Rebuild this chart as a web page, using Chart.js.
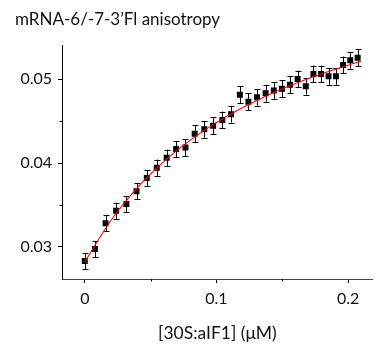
<!DOCTYPE html>
<html><head><meta charset="utf-8">
<script src="https://cdn.jsdelivr.net/npm/chart.js@4.4.1/dist/chart.umd.min.js"></script>
<style>html,body{margin:0;padding:0;background:#fff}#wrap{width:377px;height:347px}</style>
</head><body><div id="wrap"><canvas id="c" width="377" height="347"></canvas></div>
<script>
const concentration = [0, 0.0077, 0.0158, 0.0238, 0.0316, 0.0393, 0.0471, 0.0547, 0.0622, 0.0694,
  0.0765, 0.0835, 0.0908, 0.0975, 0.1045, 0.1111, 0.1178, 0.1243, 0.1308, 0.1374,
  0.1436, 0.1498, 0.1559, 0.1617, 0.1679, 0.1737, 0.1795, 0.1852, 0.1908, 0.1962,
  0.2017, 0.2073];
const anisotropy = [0.02833, 0.02976, 0.03282, 0.03432, 0.03512, 0.03663, 0.03821, 0.03944, 0.04063, 0.04167,
  0.04185, 0.04349, 0.04401, 0.04444, 0.04512, 0.04581, 0.04813, 0.04730, 0.04782, 0.04831,
  0.04863, 0.04883, 0.04931, 0.05000, 0.04914, 0.05060, 0.05060, 0.05033, 0.05032, 0.05167,
  0.05223, 0.05254];
const anisotropyErr = [0.00097, 0.00097, 0.00097, 0.00097, 0.00097, 0.00097, 0.00097, 0.00097, 0.00097, 0.00097,
  0.00100, 0.00100, 0.00100, 0.00100, 0.00100, 0.00100, 0.00100, 0.00100, 0.00100, 0.00100,
  0.00100, 0.00100, 0.00100, 0.00100, 0.00100, 0.00100, 0.00100, 0.00100, 0.00100, 0.00100,
  0.00100, 0.00100];
const fitX = [0, 0.02, 0.04, 0.06, 0.08, 0.10, 0.12, 0.14, 0.16, 0.18, 0.20, 0.21];
const fitY = [0.0282, 0.03318, 0.03706, 0.04016, 0.0427, 0.04481, 0.0466, 0.04814, 0.04946, 0.05063, 0.05165, 0.05212];
const xTicks = [0, 0.1, 0.2];
const xTickLabels = ['0', '0.1', '0.2'];
const yTicks = [0.03, 0.04, 0.05];
const yTickLabels = ['0.03', '0.04', '0.05'];
const xMinorTicks = [0.05, 0.15];
const yMinorTicks = [0.035, 0.045];
const titleText = 'mRNA-6/-7-3\u2019Fl anisotropy';
const xTitle = '[30S:aIF1] (\u03bcM)';

const FONT = 'Lato, "Open Sans", sans-serif';

const errorBars = {
  id: 'errorBars',
  beforeDatasetsDraw(chart) {
    const ctx = chart.ctx, xs = chart.scales.x, ys = chart.scales.y;
    ctx.save();
    ctx.strokeStyle = '#000';
    ctx.lineWidth = 1;
    for (let i = 0; i < concentration.length; i++) {
      const px = Math.round(xs.getPixelForValue(concentration[i])) + 0.5;
      const y1 = ys.getPixelForValue(anisotropy[i] + anisotropyErr[i]);
      const y2 = ys.getPixelForValue(anisotropy[i] - anisotropyErr[i]);
      ctx.beginPath();
      ctx.moveTo(px, y1); ctx.lineTo(px, y2);
      ctx.moveTo(px - 3, Math.round(y1) + 0.5); ctx.lineTo(px + 3, Math.round(y1) + 0.5);
      ctx.moveTo(px - 3, Math.round(y2) + 0.5); ctx.lineTo(px + 3, Math.round(y2) + 0.5);
      ctx.stroke();
    }
    ctx.restore();
  }
};

const minorTicks = {
  id: 'minorTicks',
  afterDraw(chart) {
    const ctx = chart.ctx, xs = chart.scales.x, ys = chart.scales.y, a = chart.chartArea;
    ctx.save();
    ctx.strokeStyle = '#000';
    ctx.lineWidth = 1;
    ctx.beginPath();
    xMinorTicks.forEach(v => {
      const px = Math.round(xs.getPixelForValue(v)) + 0.5;
      ctx.moveTo(px, a.bottom); ctx.lineTo(px, a.bottom + 2.5);
    });
    yMinorTicks.forEach(v => {
      const py = Math.round(ys.getPixelForValue(v)) + 0.5;
      ctx.moveTo(a.left, py); ctx.lineTo(a.left - 2.5, py);
    });
    ctx.stroke();
    ctx.restore();
  }
};

new Chart(document.getElementById('c'), {
  data: {
    datasets: [
      {
        type: 'line',
        data: fitX.map((x, i) => ({x, y: fitY[i]})),
        borderColor: '#ff0000',
        borderWidth: 1.1,
        pointRadius: 0,
        cubicInterpolationMode: 'monotone',
        fill: false,
        order: 0
      },
      {
        type: 'scatter',
        data: concentration.map((x, i) => ({x, y: anisotropy[i]})),
        pointStyle: 'rect',
        pointRadius: 4.2,
        backgroundColor: '#000',
        borderWidth: 0,
        order: 1
      }
    ]
  },
  options: {
    responsive: false,
    animation: false,
    devicePixelRatio: 1,
    layout: { padding: { left: 15, right: 1, top: 0, bottom: 0 } },
    plugins: {
      legend: { display: false },
      tooltip: { enabled: false },
      title: {
        display: true,
        text: titleText,
        align: 'start',
        color: '#111',
        font: { family: FONT, size: 17, weight: 'normal' },
        padding: { top: 9, bottom: 15.6 }
      }
    },
    scales: {
      x: {
        type: 'linear',
        min: -0.0173,
        max: 0.2188,
        afterFit(s) { s.height = 68; },
        afterBuildTicks(s) { s.ticks = xTicks.map(v => ({value: v})); },
        border: { display: true, color: '#444', width: 1 },
        grid: { display: true, drawOnChartArea: false, drawTicks: true, tickLength: 4, color: '#000' },
        ticks: {
          autoSkip: false, maxRotation: 0, padding: 6, color: '#111',
          font: { family: FONT, size: 16 },
          callback: (v, i) => xTickLabels[i]
        },
        title: {
          display: true, text: xTitle, color: '#111',
          font: { family: FONT, size: 17.5 },
          padding: { top: 0, bottom: 3 }
        }
      },
      y: {
        type: 'linear',
        min: 0.02619,
        max: 0.05405,
        afterFit(s) { s.width = 47; },
        afterBuildTicks(s) { s.ticks = yTicks.map(v => ({value: v})); },
        border: { display: true, color: '#000', width: 1 },
        grid: { display: true, drawOnChartArea: false, drawTicks: true, tickLength: 4, color: '#000' },
        ticks: {
          autoSkip: false, padding: 6, color: '#111',
          font: { family: FONT, size: 16 },
          callback: (v, i) => yTickLabels[i]
        }
      }
    }
  },
  plugins: [errorBars, minorTicks]
});
</script>
</body></html>
